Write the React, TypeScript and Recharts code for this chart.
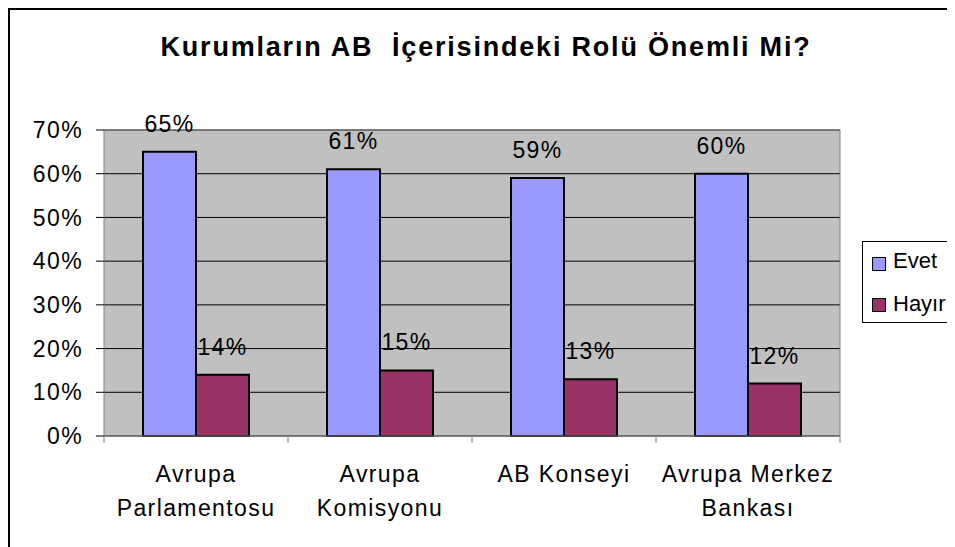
import React from 'react';
import { BarChart, Bar, XAxis, YAxis, CartesianGrid, LabelList, Legend, ReferenceLine } from 'recharts';

const categories = ['Avrupa\nParlamentosu', 'Avrupa\nKomisyonu', 'AB Konseyi', 'Avrupa Merkez\nBankası'];
const evet = [65, 61, 59, 60];
const hayir = [14, 15, 13, 12];
const yTicks = [0, 10, 20, 30, 40, 50, 60, 70];
const title = 'Kurumların AB  İçerisindeki Rolü Önemli Mi?';
const seriesNames = ['Evet', 'Hayır'];
const colors = ['#9999FF', '#993366'];

const data = categories.map((c, i) => ({ name: c, evet: evet[i], hayir: hayir[i] }));

const FONT = '"Liberation Sans", Arial, sans-serif';
const FS = 23;
const LS = 1.4;

const CatTick = (props: any) => {
  const { x, y, payload, index, visibleTicksCount, width } = props;
  const band = width / visibleTicksCount;
  const lines = String(payload.value).split('\n');
  const left = x - band / 2;
  const right = x + band / 2;
  return (
    <g>
      <line x1={left} x2={left} y1={y} y2={y + 7} stroke="#808080" strokeWidth={1} />
      {index === visibleTicksCount - 1 && <line x1={right} x2={right} y1={y} y2={y + 7} stroke="#808080" strokeWidth={1} />}
      {lines.map((l: string, i: number) => (
        <text key={i} x={x} y={y + 46 + i * 34} textAnchor="middle" fontSize={FS} fill="#000" fontFamily={FONT} letterSpacing={LS}>
          {l}
        </text>
      ))}
    </g>
  );
};

const LegendContent = () => (
  <div style={{ position: 'relative', width: 110, height: 82, border: '1px solid #000', background: '#fff', fontFamily: FONT, boxSizing: 'border-box' }}>
    {seriesNames.map((n, i) => (
      <React.Fragment key={n}>
        <div style={{ position: 'absolute', left: 9, top: 15 + i * 41, width: 14, height: 14, boxSizing: 'border-box', border: '1px solid #000', background: colors[i] }} />
        <div style={{ position: 'absolute', left: 30, top: 8 + i * 43, fontSize: 22, lineHeight: '22px', letterSpacing: 0, whiteSpace: 'nowrap', color: '#000' }}>{n}</div>
      </React.Fragment>
    ))}
  </div>
);

export default function App() {
  return (
    <div style={{ width: 947, height: 539, overflow: 'hidden' }}>
      <div style={{ position: 'relative', width: 970, height: 560, border: '2px solid #000', boxSizing: 'border-box', background: '#fff' }}>
        <div style={{ position: 'absolute', left: 0, top: 24, width: 952, textAlign: 'center', fontFamily: FONT, fontWeight: 'bold', fontSize: 27, lineHeight: '27px', letterSpacing: 1.8, color: '#000', whiteSpace: 'pre' }}>
          {title}
        </div>
        <div style={{ position: 'absolute', left: 0, top: 0 }}>
          <BarChart width={960} height={537} data={data} margin={{ top: 120, right: 130, bottom: 0, left: 0 }} barCategoryGap={39} barGap={0}>
            <CartesianGrid vertical={false} stroke="#000" fill="#C0C0C0" />
            <CartesianGrid horizontal={false} stroke="#808080" fill="none" verticalCoordinatesGenerator={({ offset }: any) => [offset.left + offset.width]} />
            <XAxis dataKey="name" height={111} tick={<CatTick />} tickLine={false} axisLine={{ stroke: '#808080' }} tickSize={0} tickMargin={0} interval={0} />
            <YAxis width={94} domain={[0, 70]} ticks={yTicks} tickFormatter={(v: number) => `${v}%`} tickSize={8} tickMargin={13} tickLine={{ stroke: '#000' }} axisLine={{ stroke: '#808080' }} tick={{ fontSize: FS, fill: '#000', fontFamily: FONT, letterSpacing: LS }} />
            <ReferenceLine y={70} stroke="#808080" />
            <Bar dataKey="evet" name={seriesNames[0]} fill={colors[0]} stroke="#000" strokeWidth={2} isAnimationActive={false}>
              <LabelList dataKey="evet" position="top" offset={20} formatter={(v: any) => `${v}%`} fill="#000" fontSize={FS} fontFamily={FONT} letterSpacing={LS} />
            </Bar>
            <Bar dataKey="hayir" name={seriesNames[1]} fill={colors[1]} stroke="#000" strokeWidth={2} isAnimationActive={false}>
              <LabelList dataKey="hayir" position="top" offset={20} formatter={(v: any) => `${v}%`} fill="#000" fontSize={FS} fontFamily={FONT} letterSpacing={LS} />
            </Bar>
            <Legend layout="horizontal" verticalAlign="middle" align="center" content={<LegendContent />} wrapperStyle={{ position: 'absolute', left: 852, top: 231, width: 110, height: 82 }} />
          </BarChart>
        </div>
      </div>
    </div>
  );
}
